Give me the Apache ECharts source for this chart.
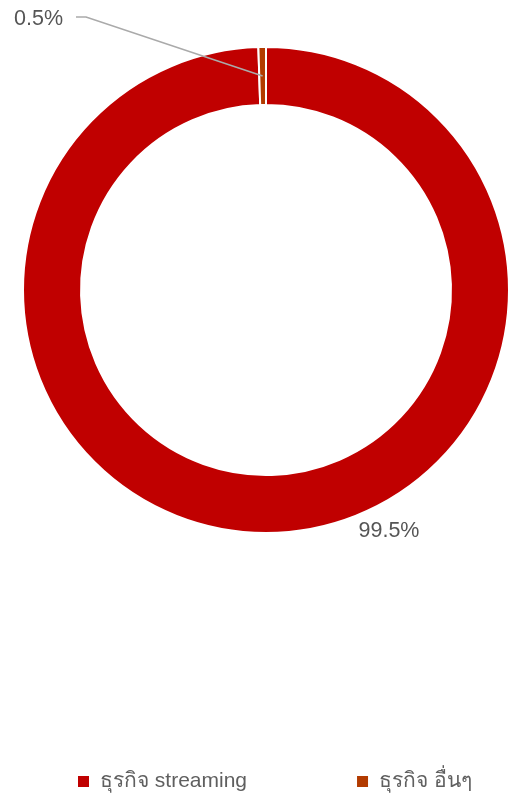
<!DOCTYPE html>
<html>
<head>
<meta charset="utf-8">
<script src="https://cdn.jsdelivr.net/npm/echarts@6/dist/echarts.min.js"></script>
<style>html,body{margin:0;padding:0;background:#fff;}#c{width:517px;height:795px;}</style>
</head>
<body>
<div id="c"></div>
<script>
const categories = ['ธุรกิจ streaming', 'ธุรกิจ อื่นๆ'];
const values = [99.5, 0.5];
const labels = ['99.5%', '0.5%'];
const colors = ['#c00000', '#b23b00'];

const FONT = '"Liberation Sans", Arial, "Noto Sans", sans-serif';
const chart = echarts.init(document.getElementById('c'));
const data = categories.map((n, i) => ({ name: n, value: values[i], itemStyle: { color: colors[i] } }));

chart.setOption({
  animation: false,
  color: colors,
  legend: {
    data: categories,
    left: 71,
    top: 766,
    icon: 'rect',
    itemWidth: 13,
    itemHeight: 13,
    itemGap: 108,
    textStyle: { fontSize: 21, color: '#5f5f5f', fontFamily: FONT, padding: [0, 0, 0, 5] }
  },
  series: [
    {
      type: 'pie',
      z: 2,
      center: [266, 290],
      radius: [185, 243],
      startAngle: 90,
      clockwise: true,
      silent: true,
      itemStyle: { borderColor: '#fff', borderWidth: 2 },
      label: { show: false },
      labelLine: { show: false },
      data: data
    },
    {
      // invisible helper used for labels so leader lines start mid-ring
      type: 'pie',
      z: 5,
      center: [266, 290],
      radius: [0, 214],
      startAngle: 90,
      clockwise: true,
      silent: true,
      itemStyle: { color: 'rgba(0,0,0,0)' },
      label: {
        show: true,
        position: 'outside',
        fontSize: 21.5,
        color: '#555',
        fontFamily: FONT,
        formatter: p => labels[p.dataIndex]
      },
      labelLine: { show: true, lineStyle: { color: '#aaa', width: 1.6 } },
      labelLayout: function (p) {
        if (p.dataIndex === 1) {
          const start = p.labelLinePoints[0];
          const lx = 14, ly = 19;
          const w = p.labelRect.width;
          return {
            x: lx, y: ly, align: 'left', verticalAlign: 'middle',
            labelLinePoints: [start, [lx + w + 23, ly - 2], [lx + w + 13, ly - 2]]
          };
        }
        return { x: 389, y: 531, align: 'center', verticalAlign: 'middle', labelLinePoints: [[0,0],[0,0],[0,0]] };
      },
      data: categories.map((n, i) => ({
        name: n, value: values[i],
        labelLine: { show: i === 1 }
      }))
    }
  ]
});
</script>
</body>
</html>
